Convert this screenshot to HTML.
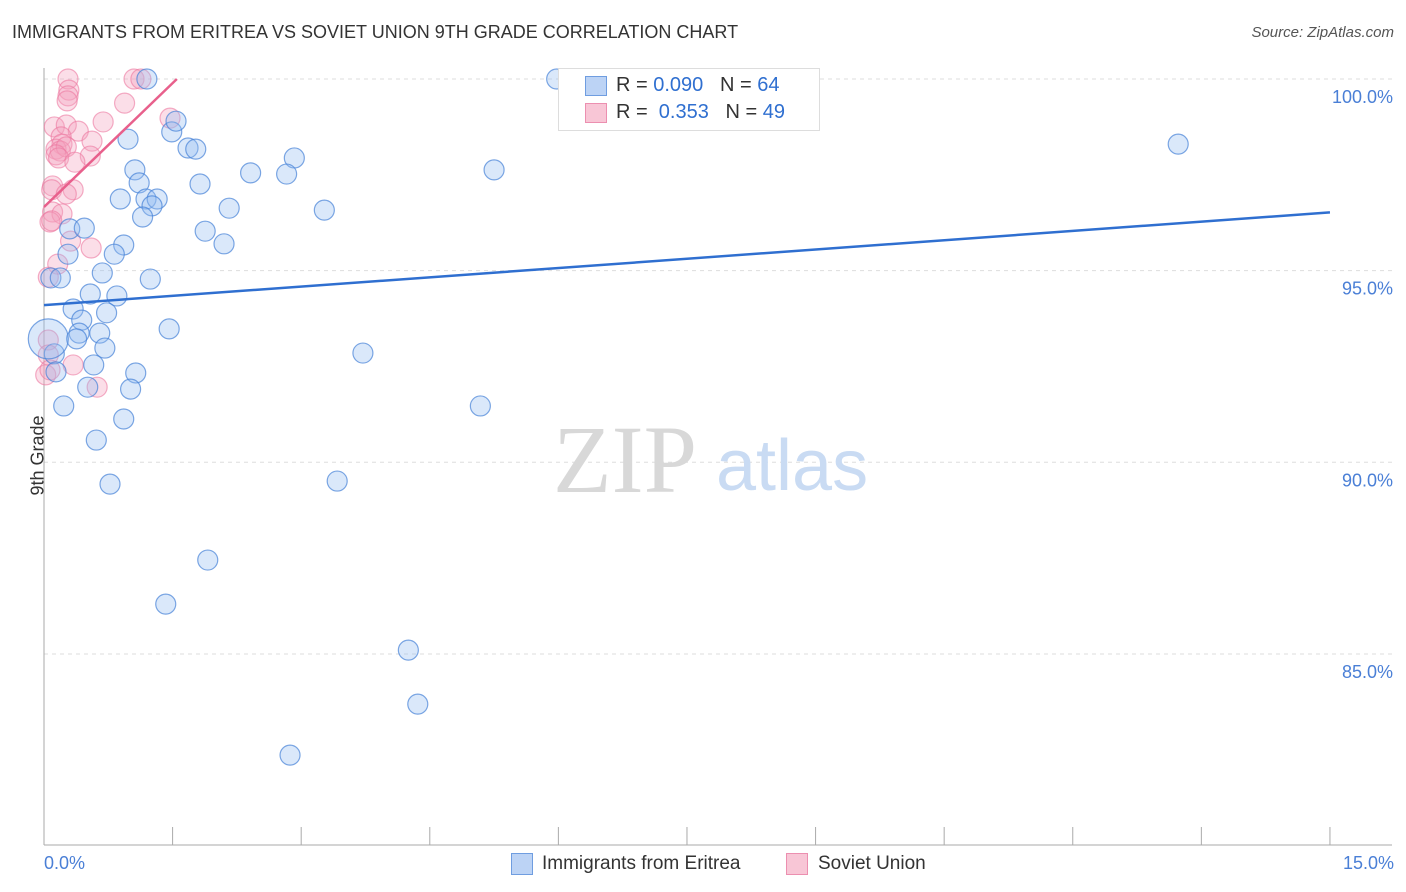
<!DOCTYPE html>
<html><head><meta charset="utf-8"><style>
body{margin:0;background:#fff;font-family:"Liberation Sans",sans-serif;}
#wrap{position:relative;width:1406px;height:892px;overflow:hidden}
.t{position:absolute;white-space:nowrap}
</style></head><body><div id="wrap">
<div class="t" style="left:12px;top:22px;font-size:18px;color:#333">IMMIGRANTS FROM ERITREA VS SOVIET UNION 9TH GRADE CORRELATION CHART</div>
<div class="t" style="right:12px;top:24px;font-size:15px;color:#555;font-style:italic">Source: ZipAtlas.com</div>
<svg id="svg" width="1406" height="892" style="position:absolute;left:0;top:0"></svg>
</div>
<script>
const yTicks=[100,95,90,85];
const yTickLabels=["100.0%","95.0%","90.0%","85.0%"];
const blueX=[1.20,5.98,6.74,13.23,1.49,1.54,0.98,1.68,1.77,2.92,1.06,2.41,2.83,5.25,1.11,1.82,0.89,1.19,1.32,1.26,1.15,2.16,3.27,0.30,0.47,1.88,2.10,0.93,0.82,0.28,0.68,1.24,0.08,0.19,0.54,0.85,0.34,0.73,0.44,1.46,0.41,0.38,0.65,0.71,0.12,3.72,0.14,0.58,1.07,0.51,1.01,0.23,5.09,0.93,0.61,3.42,0.77,1.91,1.42,4.25,4.36,2.87];
const blueY=[100,100,99.35,98.30,98.62,98.90,98.43,98.20,98.17,97.94,97.63,97.55,97.52,97.63,97.29,97.26,96.87,96.87,96.87,96.69,96.40,96.63,96.58,96.09,96.11,96.03,95.70,95.67,95.43,95.43,94.94,94.78,94.81,94.81,94.39,94.34,94.00,93.90,93.71,93.48,93.37,93.22,93.37,92.98,92.83,92.85,92.36,92.54,92.33,91.96,91.91,91.47,91.47,91.13,90.58,89.51,89.43,87.45,86.30,85.10,83.69,82.36];
const pinkX=[0.28,1.05,1.13,0.29,0.28,0.27,0.94,0.12,0.26,0.69,1.47,0.40,0.20,0.21,0.56,0.14,0.19,0.26,0.14,0.17,0.54,0.36,0.10,0.09,0.34,0.26,0.10,0.21,0.07,0.09,0.31,0.55,0.16,0.05,0.34,0.62,0.05,0.05,0.02,0.07];
const pinkY=[100,100,100,99.71,99.56,99.43,99.37,98.75,98.80,98.88,98.98,98.64,98.49,98.30,98.38,98.17,98.12,98.23,98.02,97.94,97.99,97.83,97.21,97.11,97.11,97.00,96.53,96.48,96.27,96.30,95.77,95.59,95.17,94.83,92.54,91.96,93.19,92.80,92.28,92.41];
const blueLine=[[0,94.10],[15,96.52]];
const pinkLine=[[0,96.66],[1.55,100]];
const X=v=>44+v*85.73, Y=v=>79+(100-v)*38.33;
const NS="http://www.w3.org/2000/svg",svg=document.getElementById('svg');
function mk(tag,at){const e=document.createElementNS(NS,tag);for(const k in at)e.setAttribute(k,at[k]);svg.appendChild(e);return e;}
yTicks.forEach((t,i)=>{
 const g=mk('line',{x1:44,x2:1392,y1:Y(t),y2:Y(t),stroke:'#ddd','stroke-dasharray':'4,4'});
 
 
 const l=mk('text',{x:1393,y:Y(t)+24,'text-anchor':'end','font-size':18,fill:'#4a7fd6'});
 l.textContent=yTickLabels[i];
 
 
});
let ax=mk('line',{x1:44,x2:44,y1:68,y2:845,stroke:'#aaa'});


ax=mk('line',{x1:44,x2:1392,y1:845,y2:845,stroke:'#aaa'});


for(let i=0;i<=10;i++){const tk=mk('line',{x1:X(i*1.5),x2:X(i*1.5),y1:827,y2:845,stroke:'#aaa'});
 
 }
// watermark
let w=mk('text',{x:553,y:492,'font-size':96,fill:'#d8d8d8','font-family':'Liberation Serif,serif'});w.textContent='ZIP';


w=mk('text',{x:716,y:490,'font-size':72,fill:'#c9dbf3'});w.textContent='atlas';


pinkX.forEach((x,i)=>{const c=mk('circle',{cx:X(x),cy:Y(pinkY[i]),r:10,fill:'rgba(244,160,190,0.35)',stroke:'rgba(236,120,160,0.6)','stroke-width':1.2});
 
 });
blueX.forEach((x,i)=>{const c=mk('circle',{cx:X(x),cy:Y(blueY[i]),r:10,fill:'rgba(150,190,240,0.35)',stroke:'rgba(70,130,215,0.7)','stroke-width':1.2});
 
 });
let big=mk('circle',{cx:X(0.05),cy:Y(93.22),r:20,fill:'rgba(150,190,240,0.35)',stroke:'rgba(70,130,215,0.7)','stroke-width':1.2});


let ln=mk('line',{x1:X(blueLine[0][0]),y1:Y(blueLine[0][1]),x2:X(blueLine[1][0]),y2:Y(blueLine[1][1]),stroke:'#2f6fd0','stroke-width':2.5});


ln=mk('line',{x1:X(pinkLine[0][0]),y1:Y(pinkLine[0][1]),x2:X(pinkLine[1][0]),y2:Y(pinkLine[1][1]),stroke:'#e8608c','stroke-width':2.5});


</script>
<div class="t" style="left:558px;top:68px;width:260px;height:61px;border:1px solid #ddd;background:#fff"></div>
<div class="t" style="left:585px;top:76px;width:20px;height:18px;background:#bcd3f5;border:1px solid #6f9de0"></div>
<div class="t" style="left:616px;top:74px;font-size:20px;color:#333">R = <span style="color:#2f6fd0">0.090</span> &nbsp;&nbsp;N = <span style="color:#2f6fd0">64</span></div>
<div class="t" style="left:585px;top:103px;width:20px;height:18px;background:#f8c6d6;border:1px solid #ec8fb0"></div>
<div class="t" style="left:616px;top:101px;font-size:20px;color:#333">R = &nbsp;<span style="color:#2f6fd0">0.353</span> &nbsp;&nbsp;N = <span style="color:#2f6fd0">49</span></div>
<div class="t" style="left:-2px;top:445px;font-size:18px;color:#333;transform:rotate(-90deg);transform-origin:center">9th Grade</div>
<div class="t" style="left:44px;top:853px;font-size:18px;color:#4a7fd6">0.0%</div>
<div class="t" style="right:12px;top:853px;font-size:18px;color:#4a7fd6">15.0%</div>
<div class="t" style="left:511px;top:853px;width:20px;height:20px;background:#bcd3f5;border:1px solid #6f9de0"></div>
<div class="t" style="left:542px;top:853px;font-size:19px;color:#333">Immigrants from Eritrea</div>
<div class="t" style="left:786px;top:853px;width:20px;height:20px;background:#f8c6d6;border:1px solid #ec8fb0"></div>
<div class="t" style="left:818px;top:853px;font-size:19px;color:#333">Soviet Union</div>
</body></html>
